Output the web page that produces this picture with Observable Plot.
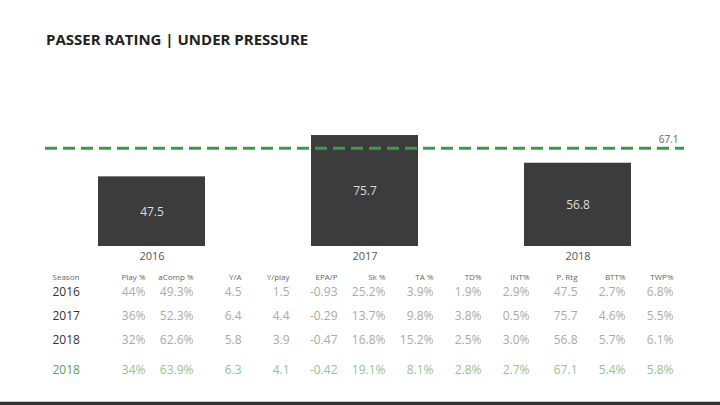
<!DOCTYPE html>
<html>
<head>
<meta charset="utf-8">
<script src="https://cdn.jsdelivr.net/npm/d3@7"></script>
<script src="https://cdn.jsdelivr.net/npm/@observablehq/plot@0.6"></script>
<style>
  html, body { margin: 0; padding: 0; background: #fff; }
  #wrap { position: relative; width: 720px; height: 405px; overflow: hidden; font-family: "Open Sans", sans-serif; }
  #title { position: relative; height: 60px; }
  #title span { position: absolute; left: 46px; top: 32px; font-size: 15px; line-height: 15px; font-weight: 700; color: #222; }
  #chart svg, #table svg { display: block; }
  #bottom1 { position: absolute; left: 0; top: 401px; width: 720px; height: 1px; background: #ccc; }
  #bottom2 { position: absolute; left: 0; top: 402px; width: 720px; height: 3px; background: #333; }
</style>
</head>
<body>
<div id="wrap">
  <div id="title"><span>PASSER RATING | UNDER PRESSURE</span></div>
  <div id="chart"></div>
  <div id="table"></div>
  <div id="bottom1"></div>
  <div id="bottom2"></div>
</div>
<script>
// ---- data ----
const seasons = ["2016", "2017", "2018"];
const passerRating = [47.5, 75.7, 56.8];
const referenceRating = 67.1;
const referenceLabel = "2018";

const columns = ["Play %", "aComp %", "Y/A", "Y/play", "EPA/P", "Sk %", "TA %", "TD%", "INT%", "P. Rtg", "BTT%", "TWP%"];
const row2016 = ["44%", "49.3%", "4.5", "1.5", "-0.93", "25.2%", "3.9%", "1.9%", "2.9%", "47.5", "2.7%", "6.8%"];
const row2017 = ["36%", "52.3%", "6.4", "4.4", "-0.29", "13.7%", "9.8%", "3.8%", "0.5%", "75.7", "4.6%", "5.5%"];
const row2018 = ["32%", "62.6%", "5.8", "3.9", "-0.47", "16.8%", "15.2%", "2.5%", "3.0%", "56.8", "5.7%", "6.1%"];
const rowReference = ["34%", "63.9%", "6.3", "4.1", "-0.42", "19.1%", "8.1%", "2.8%", "2.7%", "67.1", "5.4%", "5.8%"];

// ---- chart ----
const bars = seasons.map((s, i) => ({season: s, rating: passerRating[i]}));
const font = "Open Sans, sans-serif";

const chart = Plot.plot({
  width: 720,
  height: 210,
  marginTop: 39.4,
  marginBottom: 24,
  marginLeft: 45,
  marginRight: 36,
  style: {fontFamily: font, background: "transparent"},
  x: {domain: seasons, paddingInner: 0.5, paddingOuter: 0.25, label: null},
  y: {domain: [0, 100], axis: null},
  marks: [
    Plot.barY(bars, {x: "season", y: "rating", fill: "#3c3c3c"}),
    Plot.text(bars, {x: "season", y: d => d.rating / 2, text: d => d.rating.toFixed(1), fill: "#dddddd", fontSize: 12}),
    Plot.ruleY([referenceRating], {stroke: "#3d9a47", strokeWidth: 3, strokeDasharray: "12,6"}),
    Plot.text([referenceRating], {y: d => d, frameAnchor: "right", textAnchor: "end", dx: -6, dy: -8, text: d => d.toFixed(1), fill: "#666", fontSize: 10}),
    Plot.axisX({tickSize: 0, tickPadding: 6, fontSize: 11, color: "#555"})
  ]
});
document.getElementById("chart").append(chart);

// ---- table ----
const mkRow = (vals) => columns.map((c, i) => ({col: c, val: vals[i]}));
const cells2016 = mkRow(row2016).map(d => ({...d, season: "2016"}));
const cells2017 = mkRow(row2017).map(d => ({...d, season: "2017"}));
const cells2018 = mkRow(row2018).map(d => ({...d, season: "2018"}));
const cellsRef = mkRow(rowReference).map(d => ({...d, season: "2018"}));
const seasonCells = cells2016.concat(cells2017, cells2018);

const table = Plot.plot({
  width: 720,
  height: 135,
  margin: 0,
  style: {fontFamily: font, background: "transparent"},
  x: {type: "point", domain: columns, range: [143, 675], padding: 0, axis: null},
  y: {type: "point", domain: seasons, range: [21, 70], padding: 0, axis: null},
  marks: [
    // header
    Plot.text(columns, {x: d => d, y: () => "2016", dy: -15, text: d => d, textAnchor: "end", fill: "#666", fontSize: 8}),
    Plot.text(["Season"], {y: () => "2016", frameAnchor: "left", dx: 52, dy: -15, text: d => d, textAnchor: "start", fill: "#666", fontSize: 8}),
    // season labels
    Plot.text(seasons, {y: d => d, frameAnchor: "left", dx: 52, text: d => d, textAnchor: "start", fill: "#333", fontSize: 12}),
    Plot.text(seasonCells, {x: "col", y: "season", text: "val", textAnchor: "end", fill: "#aaa", fontSize: 12}),
    // reference row
    Plot.text([referenceLabel], {y: d => d, frameAnchor: "left", dx: 52, dy: 30, text: d => d, textAnchor: "start", fill: "#5a9e5a", fontSize: 12}),
    Plot.text(cellsRef, {x: "col", y: "season", dy: 30, text: "val", textAnchor: "end", fill: "#92c392", fontSize: 12})
  ]
});
document.getElementById("table").append(table);
</script>
</body>
</html>
